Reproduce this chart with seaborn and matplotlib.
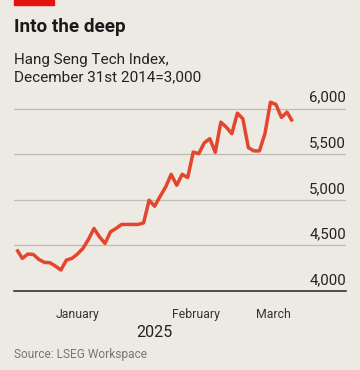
"""
Hang Seng Tech Index, Jan - Mar 2025 (Economist style line chart)
"""

import pandas as pd
import matplotlib
import matplotlib.pyplot as plt
import matplotlib.transforms as mtransforms
from matplotlib.patches import Rectangle
import seaborn as sns

matplotlib.use('Agg')

# weekdays Jan 1 - Mar 12 2025, holidays carried forward
dates = pd.bdate_range('2025-01-01', '2025-03-12')
index_values = [
    4456, 4358, 4405, 4401, 4347, 4314, 4310, 4274, 4230, 4339,
    4358, 4405, 4467, 4566, 4686, 4594, 4522, 4649, 4686, 4730,
    4730, 4730, 4730, 4747, 4996, 4930, 5039, 5141, 5280, 5160,
    5280, 5244, 5524, 5506, 5625, 5671, 5521, 5852, 5797, 5725,
    5951, 5889, 5572, 5537, 5537, 5725, 6071, 6046, 5904, 5962,
    5860,
]
y_ticks = [4000, 4500, 5000, 5500, 6000]
y_labels = ['4,000', '4,500', '5,000', '5,500', '6,000']
months = ['January', 'February', 'March']
year_label = '2025'

title = 'Into the deep'
subtitle = 'Hang Seng Tech Index,\nDecember 31st 2014=3,000'
source = 'Source: LSEG Workspace'

df = pd.DataFrame({'date': dates, 'value': index_values})
df['pos'] = range(len(df))

# month boundaries in weekday positions
first_pos = [df.index[df['date'].dt.month == m][0] for m in (1, 2, 3)]
bounds = [p - 0.5 for p in first_pos] + [len(df) - 0.5]
mids = [(bounds[i] + bounds[i + 1]) / 2 for i in range(3)]

BG = '#ECEAE2'
RED = '#E5452F'
sns.set_style('white')
plt.rcParams['font.family'] = ['Roboto', 'DejaVu Sans']

fig = plt.figure(figsize=(3.6, 3.7), dpi=100, facecolor=BG)
ax = fig.add_axes([14 / 360, 79 / 370, 332 / 360, 196 / 370])
ax.set_facecolor(BG)

sns.lineplot(data=df, x='pos', y='value', ax=ax, color=RED, lw=2.5,
             solid_capstyle='butt', zorder=3)

ax.set_xlim(-0.5, 59.7)
ax.set_ylim(4000, 6150)

# gridlines + labels sitting on top of them at the right
for v in y_ticks[1:]:
    ax.axhline(v, color='#BDBBB5', lw=0.9, zorder=1)
trans = mtransforms.offset_copy(ax.get_yaxis_transform(), fig=fig, y=4, units='dots')
for v, lab in zip(y_ticks, y_labels):
    ax.text(1.0, v, lab, transform=trans, ha='right', va='bottom',
            fontsize=10.8, color='#222222')

for s in ['top', 'right', 'left']:
    ax.spines[s].set_visible(False)
ax.spines['bottom'].set_color('#222222')
ax.spines['bottom'].set_linewidth(1.1)
ax.set_yticks([])

ax.set_xticks(bounds)
ax.set_xticklabels([''] * len(bounds))
ax.set_xticks(mids, minor=True)
ax.set_xticklabels(months, minor=True, fontsize=8.8, color='#333333')
ax.tick_params(axis='x', which='major', length=7, width=1.1, color='#222222', direction='out')
ax.tick_params(axis='x', which='minor', length=0, pad=12)
ax.set_xlabel('')
ax.set_ylabel('')

ax.text((bounds[0] + bounds[-1]) / 2, -0.21, year_label, transform=ax.get_xaxis_transform(),
        ha='center', va='center', fontsize=11.5, color='#222222')

fig.patches.append(Rectangle((14 / 360, 1 - 5 / 370), 40 / 360, 5 / 370,
                             transform=fig.transFigure, color='#E3120B'))
fig.text(14 / 360, 1 - 32.5 / 370, title, fontsize=13.6, fontweight='bold',
         color='#1A1A1A', va='baseline')
fig.text(14 / 360, 1 - 81 / 370, subtitle, fontsize=11, color='#222222',
         va='baseline', linespacing=1.25)
fig.text(14 / 360, 1 - 358 / 370, source, fontsize=8.6, color='#767676', va='baseline')

plt.savefig('out.png', dpi=100, facecolor=BG)
